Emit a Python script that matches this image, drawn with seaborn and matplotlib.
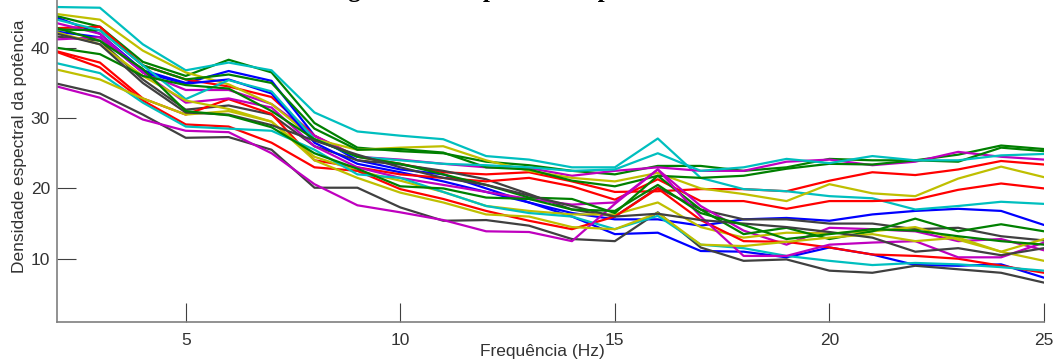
import matplotlib
matplotlib.use("Agg")
import matplotlib.pyplot as plt
import pandas as pd
import seaborn as sns

# frequencies (Hz)
freq = list(range(2, 26))

# one list per curve, grouped by line colour
blue_lines = [
    [44.3, 42.0, 36.8, 35.0, 36.7, 35.3, 27.5, 24.0, 22.7, 22.0, 20.0, 18.0, 16.5, 15.6, 15.6, 14.7, 15.6, 15.8, 15.4, 16.3, 16.8, 17.1, 16.8, 14.8],
    [42.3, 41.5, 36.5, 34.9, 35.5, 33.5, 26.5, 23.5, 22.3, 21.0, 19.5, 18.0, 16.0, 13.5, 13.7, 11.1, 11.0, 10.2, 11.6, 10.6, 9.1, 9.0, 9.2, 7.3],
]
green_lines = [
    [44.5, 43.0, 38.0, 36.0, 38.3, 36.5, 29.3, 25.8, 25.3, 25.0, 23.8, 23.3, 22.5, 22.0, 23.2, 23.2, 22.5, 23.0, 24.2, 24.0, 24.0, 24.8, 26.1, 25.6],
    [42.6, 42.5, 37.5, 35.5, 36.2, 35.0, 28.5, 25.5, 25.6, 25.1, 23.0, 22.7, 21.1, 20.3, 21.8, 21.5, 21.8, 22.8, 23.5, 23.4, 24.0, 23.8, 25.8, 25.3],
    [40.0, 39.1, 36.0, 34.7, 34.2, 31.0, 27.0, 24.5, 23.5, 22.0, 20.5, 18.7, 18.5, 16.5, 21.8, 17.0, 13.5, 14.4, 12.8, 13.9, 15.7, 13.9, 14.9, 13.9],
    [42.8, 41.0, 37.0, 31.0, 30.4, 28.7, 25.0, 22.8, 20.3, 20.0, 18.7, 18.5, 17.0, 16.8, 20.5, 16.5, 14.8, 12.8, 13.5, 14.2, 14.0, 13.2, 12.5, 12.0],
]
red_lines = [
    [42.8, 43.0, 37.5, 35.5, 34.5, 33.0, 27.5, 24.5, 23.5, 22.3, 22.0, 22.3, 21.0, 19.5, 19.6, 19.9, 19.9, 19.6, 21.1, 22.3, 21.9, 22.7, 23.9, 23.4],
    [39.5, 37.9, 32.8, 30.5, 32.7, 30.6, 24.0, 23.0, 22.0, 21.5, 21.0, 21.5, 20.3, 18.4, 21.3, 18.2, 18.2, 17.1, 18.2, 18.2, 18.4, 19.8, 20.7, 20.0],
    [39.4, 37.2, 32.5, 29.1, 28.8, 26.5, 23.0, 22.5, 19.9, 18.5, 16.8, 15.4, 14.2, 16.0, 20.0, 15.5, 12.5, 12.4, 11.6, 10.6, 10.4, 10.0, 9.0, 8.0],
]
cyan_lines = [
    [45.8, 45.7, 40.5, 36.8, 37.9, 36.8, 30.8, 28.1, 27.5, 27.0, 24.6, 24.1, 23.0, 23.0, 27.1, 21.5, 19.9, 19.6, 18.9, 18.6, 17.0, 17.5, 18.1, 17.8],
    [44.0, 42.5, 37.5, 32.7, 35.4, 33.8, 27.0, 24.5, 24.0, 23.5, 23.3, 23.0, 22.5, 22.7, 25.0, 22.5, 23.0, 24.2, 23.6, 24.6, 24.0, 24.0, 24.7, 24.9],
    [37.8, 36.4, 32.2, 28.8, 28.5, 28.2, 25.5, 22.0, 21.5, 19.5, 17.5, 16.5, 16.0, 14.2, 16.1, 12.0, 11.5, 10.4, 9.7, 9.1, 9.4, 9.2, 8.8, 8.3],
]
magenta_lines = [
    [43.5, 42.0, 36.5, 34.0, 34.0, 32.0, 27.5, 24.5, 24.1, 23.5, 23.0, 22.9, 21.8, 22.5, 23.0, 22.5, 22.5, 23.8, 24.1, 23.3, 23.8, 25.2, 24.5, 24.1],
    [41.2, 41.5, 36.5, 32.2, 32.8, 31.5, 26.0, 23.0, 21.5, 20.5, 19.5, 18.5, 17.7, 18.0, 22.7, 17.5, 14.0, 12.0, 14.4, 14.2, 13.9, 12.5, 12.8, 11.2],
    [34.5, 32.9, 29.8, 28.2, 28.0, 25.0, 20.6, 17.6, 16.6, 15.5, 13.9, 13.8, 12.5, 17.8, 22.7, 16.0, 10.4, 10.4, 12.0, 12.3, 12.5, 10.2, 10.2, 12.3],
]
yellow_lines = [
    [44.8, 44.0, 39.6, 36.5, 34.8, 32.0, 27.0, 25.5, 25.8, 26.0, 24.0, 22.5, 21.5, 21.0, 22.2, 20.0, 19.2, 18.2, 20.6, 19.3, 18.9, 21.4, 23.1, 21.6],
    [42.2, 40.5, 36.0, 32.5, 31.3, 29.5, 24.5, 22.5, 21.1, 19.5, 17.5, 16.8, 16.3, 16.3, 18.0, 14.5, 13.0, 13.7, 13.6, 13.9, 14.5, 12.7, 11.0, 12.8],
    [36.9, 35.5, 32.8, 30.5, 31.0, 29.5, 24.0, 21.5, 19.4, 18.0, 16.3, 16.0, 14.5, 14.2, 16.5, 12.0, 11.8, 12.4, 13.0, 13.5, 12.5, 13.0, 11.0, 9.7],
]
black_lines = [
    [41.6, 41.0, 35.5, 31.2, 31.8, 30.5, 26.0, 24.0, 23.4, 22.5, 21.3, 19.2, 17.0, 16.0, 20.1, 17.0, 15.6, 15.6, 15.0, 15.0, 14.2, 14.4, 13.2, 12.6],
    [34.9, 33.5, 30.5, 27.2, 27.3, 25.5, 20.1, 20.1, 17.3, 15.4, 15.5, 14.7, 12.8, 12.5, 16.6, 11.6, 9.7, 9.9, 8.3, 8.0, 9.0, 8.5, 8.0, 6.6],
    [42.0, 40.5, 35.0, 30.8, 30.5, 29.0, 26.8, 24.8, 23.0, 21.5, 20.5, 19.0, 17.5, 16.0, 16.4, 15.5, 15.0, 14.5, 13.8, 13.0, 11.0, 11.5, 10.5, 11.5],
]

# MATLAB classic line colours
matlab_colors = {
    "blue": (0, 0, 1),
    "green": (0, 0.5, 0),
    "red": (1, 0, 0),
    "cyan": (0, 0.75, 0.75),
    "magenta": (0.75, 0, 0.75),
    "yellow": (0.75, 0.75, 0),
    "black": (0.25, 0.25, 0.25),
}
groups = [
    ("blue", blue_lines), ("green", green_lines), ("red", red_lines),
    ("cyan", cyan_lines), ("magenta", magenta_lines),
    ("yellow", yellow_lines), ("black", black_lines),
]

# long-form table; draw order follows MATLAB colour cycle round by round
rows = []
order = []
palette = {}
for k in range(4):
    for name, lines in groups:
        if k >= len(lines):
            continue
        serie = f"{name}_{k}"
        order.append(serie)
        palette[serie] = matlab_colors[name]
        for f, v in zip(freq, lines[k]):
            rows.append({"freq": f, "psd": v, "serie": serie})
df = pd.DataFrame(rows)

sns.set_style("white")
plt.rcParams["font.family"] = ["Liberation Sans", "DejaVu Sans"]

W, H = 1055, 361
fig = plt.figure(figsize=(W / 100, H / 100), dpi=100)
ax = fig.add_axes([57 / W, 1 - 322 / H, (1044 - 57) / W, 322 / H])

sns.lineplot(
    data=df, x="freq", y="psd", hue="serie", hue_order=order,
    palette=palette, estimator=None, legend=False, linewidth=1.6, ax=ax,
)

ax.set_xlim(2, 25)
ax.set_ylim(1, 46.8)
ax.set_xticks([5, 10, 15, 20, 25])
ax.set_yticks([10, 20, 30, 40])

for side in ["top", "right"]:
    ax.spines[side].set_visible(False)
for side in ["left", "bottom"]:
    ax.spines[side].set_color("#7f7f7f")
    ax.spines[side].set_linewidth(1.2)

# MATLAB style: inward ticks on left and bottom
ax.tick_params(axis="both", direction="in", length=14, width=0.8,
               color="#404040", labelcolor="#333333", labelsize=12.5,
               bottom=True, left=True, top=False, right=False)
ax.tick_params(axis="x", pad=8)
ax.tick_params(axis="y", pad=5)

ax.set_xlabel("Frequência (Hz)", fontsize=12.5, color="#333333")
ax.set_ylabel("Densidade espectral da potência", fontsize=12.5, color="#333333")
ax.xaxis.set_label_coords((542 - 57) / 987, -0.068)
ax.yaxis.set_label_coords(-0.030, (322 - 146) / 322)

# title sits mostly above the visible area, only descenders show
fig.text(274 / W, 1 + 3 / H, "Média global dos espectros de potência",
         family=["Liberation Serif", "DejaVu Serif"], weight="bold",
         fontsize=18, color="black", ha="left", va="baseline")

fig.savefig("out.png", dpi=100)
